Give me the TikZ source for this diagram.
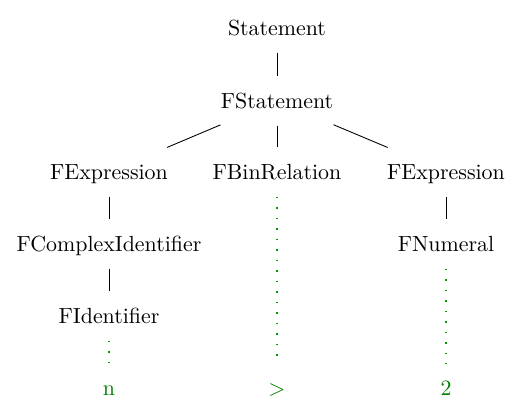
\documentclass[tikz,border=0pt]{standalone}
\begin{document}
\begin{tikzpicture}[x=0.4566pt, y=-0.4566pt,
  every node/.style={inner xsep=0pt, inner ysep=6.5pt, text height=8pt, text depth=1pt},
  leaf/.style={text=green!50!black},
  lexedge/.style={draw=green!60!black, line width=0.8pt, dash pattern=on 0.8pt off 4pt}]
  \useasboundingbox (0,0) rectangle (524,419);
  % inner nodes
  \node (stmt)  at (277,28)  {Statement};
  \node (fstmt) at (277,101) {FStatement};
  \node (fexpl) at (109,172) {FExpression};
  \node (fbin)  at (277,172) {FBinRelation};
  \node (fexpr) at (446,172) {FExpression};
  \node (fcid)  at (109,244) {FComplexIdentifier};
  \node (fnum)  at (446,244) {FNumeral};
  \node (fid)   at (109,316) {FIdentifier};
  % leaves
  \node[leaf] (ln)  at (109,388) {n};
  \node[leaf] (lgt) at (277,388) {$>$};
  \node[leaf] (ltw) at (446,388) {2};
  % edges
  \draw (stmt) -- (fstmt);
  \draw (fstmt) -- (fexpl);
  \draw (fstmt) -- (fbin);
  \draw (fstmt) -- (fexpr);
  \draw (fexpl) -- (fcid);
  \draw (fcid) -- (fid);
  \draw (fexpr) -- (fnum);
  \draw[lexedge] (fid) -- (ln);
  \draw[lexedge] (fbin) -- (lgt);
  \draw[lexedge] (fnum) -- (ltw);
\end{tikzpicture}
\end{document}
